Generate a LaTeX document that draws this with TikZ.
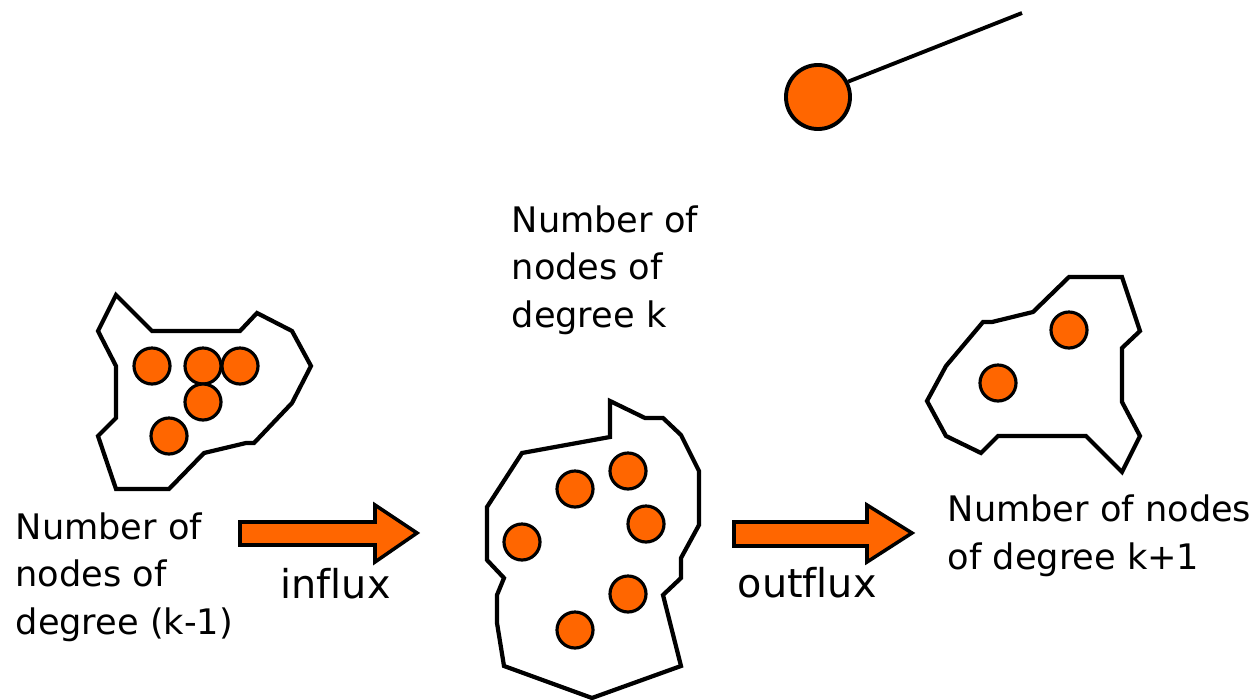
\documentclass[tikz,border=0pt]{standalone}
\usepackage{fontspec}
\setmainfont{DejaVu Sans}[Ligatures=NoCommon]
\definecolor{dotorange}{HTML}{FF6600}

\begin{document}
\begin{tikzpicture}[x=0.01cm,y=-0.01cm,
    ball/.style={circle,draw,line width=0.9pt,fill=dotorange,minimum size=0.36cm,inner sep=0pt},
    blob/.style={line width=1.2pt,line join=miter},
    flux/.style={draw,line width=1pt,fill=dotorange},
    lbl/.style={align=left,inner sep=0pt,anchor=base west,font=\fontsize{10}{13.4}\selectfont},
    big/.style={inner sep=0pt,anchor=base west,font=\fontsize{11.3}{14}\selectfont}]
  \useasboundingbox (0,0) rectangle (1257,700);

  % falling node
  \node[ball,minimum size=0.64cm,line width=1.1pt] (fall) at (818,97) {};
  \coordinate (tail) at (1022,13);
  \draw[line width=1.1pt] (fall.27) -- (tail);

  % group of degree k-1
  \draw[blob] (116,295) -- (152,331) -- (240,331) -- (257,313) -- (292,331)
    -- (311,366) -- (292,403) -- (254,443) -- (246,443) -- (204,453)
    -- (169,489) -- (116,489) -- (98,436) -- (116,418) -- (116,366)
    -- (98,331) -- cycle;
  \node[ball] (a1) at (152,366) {};
  \node[ball] (a2) at (203,366) {};
  \node[ball] (a3) at (240,366) {};
  \node[ball] (a4) at (203,402) {};
  \node[ball] (a5) at (169,436) {};

  % group of degree k
  \draw[blob] (610,401) -- (645,418) -- (663,418) -- (681,435) -- (699,471)
    -- (699,525) -- (681,558) -- (681,578) -- (663,595) -- (681,666)
    -- (592,698) -- (504,666) -- (497,623) -- (497,595) -- (504,578)
    -- (487,560) -- (487,507) -- (522,453) -- (610,437) -- cycle;
  \node[ball] (b1) at (575,489) {};
  \node[ball] (b2) at (628,471) {};
  \node[ball] (b3) at (646,524) {};
  \node[ball] (b4) at (522,542) {};
  \node[ball] (b5) at (628,594) {};
  \node[ball] (b6) at (575,630) {};

  % group of degree k+1
  \draw[blob] (1069,277) -- (1122,277) -- (1140,331) -- (1122,348) -- (1122,402)
    -- (1140,436) -- (1122,472) -- (1086,436) -- (998,436) -- (981,453)
    -- (946,436) -- (927,401) -- (946,366) -- (983,322) -- (992,322)
    -- (1033,312) -- cycle;
  \node[ball] (c1) at (1069,330) {};
  \node[ball] (c2) at (998,383) {};

  % flux arrows
  \draw[flux] (240,522) -- (375,522) -- (375,505) -- (417,533) -- (375,562)
    -- (375,545) -- (240,545) -- cycle;
  \draw[flux] (734,522) -- (867,522) -- (867,505) -- (912,533) -- (867,562)
    -- (867,546) -- (734,546) -- cycle;

  % labels (anchored at the last baseline)
  \node[lbl] (lowtxt) at (15,634) {Number of\\nodes of\\degree (k-1)};
  \node[lbl] (midtxt) at (511,327) {Number of\\nodes of\\degree k};
  \node[lbl] (hightxt) at (947,569) {Number of nodes\\of degree k+1};
  \node[big] (intxt) at (280,598) {influx};
  \node[big] (outtxt) at (737,597) {outflux};
\end{tikzpicture}
\end{document}
